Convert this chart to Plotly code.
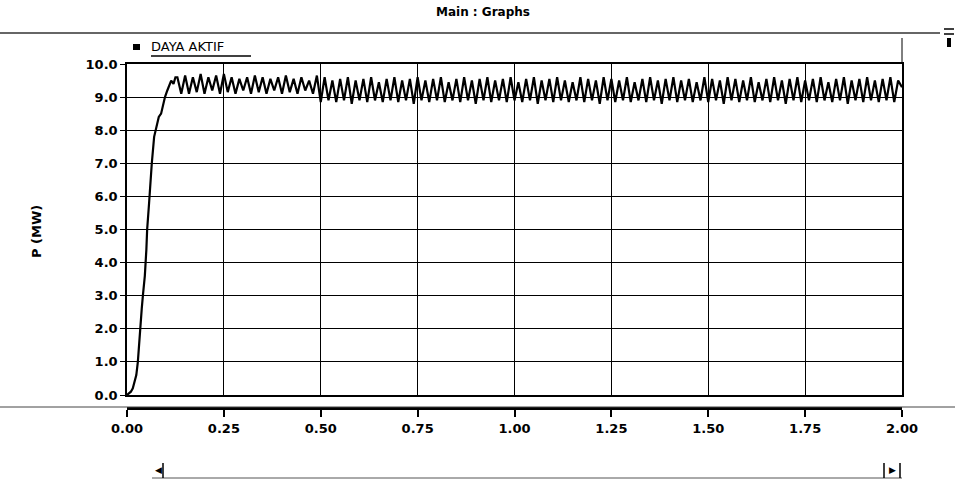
import plotly.graph_objects as go

# ---------------- data ----------------
rise_t = [0.000, 0.005, 0.010, 0.015, 0.020, 0.024, 0.028, 0.031, 0.034, 0.038,
          0.041, 0.046, 0.050, 0.052, 0.057, 0.060, 0.064, 0.070, 0.077, 0.082,
          0.088, 0.094, 0.098, 0.104, 0.108, 0.114, 0.120, 0.125]
rise_p = [0.0, 0.05, 0.1, 0.2, 0.4, 0.6, 1.0, 1.5, 2.2, 2.6,
          3.0, 3.6, 4.4, 5.0, 5.8, 6.4, 7.0, 7.8, 8.2, 8.4,
          8.5, 8.8, 9.0, 9.2, 9.3, 9.5, 9.4, 9.6]

early_t = [0.13, 0.14, 0.15, 0.16, 0.17, 0.18, 0.19, 0.20,
           0.21, 0.22, 0.23, 0.24, 0.25, 0.26, 0.27, 0.28, 0.29, 0.30,
           0.31, 0.32, 0.33, 0.34, 0.35, 0.36, 0.37, 0.38, 0.39, 0.40,
           0.41, 0.42, 0.43, 0.44, 0.45, 0.46, 0.47, 0.48, 0.49, 0.50]
early_p = [9.6, 9.1, 9.65, 9.1, 9.6, 9.15, 9.7, 9.1,
           9.6, 9.2, 9.65, 9.1, 9.7, 9.15, 9.6, 9.1, 9.55, 9.2,
           9.6, 9.1, 9.65, 9.15, 9.6, 9.1, 9.55, 9.2, 9.6, 9.1,
           9.65, 9.15, 9.55, 9.1, 9.6, 9.2, 9.5, 9.1, 9.65, 8.85]

late_t = [0.51, 0.52, 0.53, 0.54, 0.55, 0.56, 0.57, 0.58, 0.59, 0.60,
          0.61, 0.62, 0.63, 0.64, 0.65, 0.66, 0.67, 0.68, 0.69, 0.70,
          0.71, 0.72, 0.73, 0.74, 0.75, 0.76, 0.77, 0.78, 0.79, 0.80,
          0.81, 0.82, 0.83, 0.84, 0.85, 0.86, 0.87, 0.88, 0.89, 0.90,
          0.91, 0.92, 0.93, 0.94, 0.95, 0.96, 0.97, 0.98, 0.99, 1.00,
          1.01, 1.02, 1.03, 1.04, 1.05, 1.06, 1.07, 1.08, 1.09, 1.10,
          1.11, 1.12, 1.13, 1.14, 1.15, 1.16, 1.17, 1.18, 1.19, 1.20,
          1.21, 1.22, 1.23, 1.24, 1.25, 1.26, 1.27, 1.28, 1.29, 1.30,
          1.31, 1.32, 1.33, 1.34, 1.35, 1.36, 1.37, 1.38, 1.39, 1.40,
          1.41, 1.42, 1.43, 1.44, 1.45, 1.46, 1.47, 1.48, 1.49, 1.50,
          1.51, 1.52, 1.53, 1.54, 1.55, 1.56, 1.57, 1.58, 1.59, 1.60,
          1.61, 1.62, 1.63, 1.64, 1.65, 1.66, 1.67, 1.68, 1.69, 1.70,
          1.71, 1.72, 1.73, 1.74, 1.75, 1.76, 1.77, 1.78, 1.79, 1.80,
          1.81, 1.82, 1.83, 1.84, 1.85, 1.86, 1.87, 1.88, 1.89, 1.90,
          1.91, 1.92, 1.93, 1.94, 1.95, 1.96, 1.97, 1.98, 1.99, 2.00]
late_p = [9.6, 8.9, 9.5, 8.85, 9.55, 8.9, 9.6, 8.8, 9.5, 8.9,
          9.55, 8.85, 9.6, 8.9, 9.45, 8.85, 9.55, 8.9, 9.6, 8.85,
          9.5, 8.9, 9.55, 8.8, 9.6, 8.9, 9.5, 8.85, 9.55, 8.9,
          9.6, 8.85, 9.45, 8.9, 9.55, 8.85, 9.6, 8.9, 9.5, 8.8,
          9.55, 8.9, 9.6, 8.85, 9.5, 8.9, 9.55, 8.85, 9.6, 8.9,
          9.45, 8.85, 9.55, 8.9, 9.6, 8.8, 9.5, 8.9, 9.55, 8.85,
          9.6, 8.9, 9.5, 8.85, 9.45, 8.9, 9.6, 8.85, 9.55, 8.9,
          9.5, 8.8, 9.6, 8.9, 9.55, 8.85, 9.5, 8.9, 9.6, 8.85,
          9.45, 8.9, 9.55, 8.85, 9.6, 8.9, 9.5, 8.8, 9.55, 8.9,
          9.6, 8.85, 9.5, 8.9, 9.55, 8.85, 9.45, 8.9, 9.6, 8.85,
          9.55, 8.9, 9.5, 8.8, 9.6, 8.9, 9.55, 8.85, 9.5, 8.9,
          9.6, 8.85, 9.45, 8.9, 9.55, 8.85, 9.6, 8.9, 9.5, 8.8,
          9.55, 8.9, 9.6, 8.85, 9.5, 8.9, 9.55, 8.85, 9.6, 8.9,
          9.45, 8.85, 9.55, 8.9, 9.6, 8.8, 9.5, 8.9, 9.55, 8.85,
          9.6, 8.9, 9.5, 8.85, 9.55, 8.9, 9.6, 8.85, 9.5, 9.3]

x_ticks = [0.00, 0.25, 0.50, 0.75, 1.00, 1.25, 1.50, 1.75, 2.00]
y_ticks = [0.0, 1.0, 2.0, 3.0, 4.0, 5.0, 6.0, 7.0, 8.0, 9.0, 10.0]

series_name = "DAYA AKTIF"
title_text = "Main : Graphs"
y_title = "P (MW)"

# ---------------- figure ----------------
W, H = 955, 483
ML, MR, MT, MB = 127, 53, 64, 75
PW, PH = W - ML - MR, H - MT - MB


def px(x):
    return (x - ML) / PW


def py(y):
    return (H - MB - y) / PH


FONT = "DejaVu Sans"

t_all = rise_t + early_t + late_t
p_all = rise_p + early_p + late_p

fig = go.Figure()
fig.add_trace(go.Scatter(x=t_all, y=p_all, mode="lines", name=series_name,
                         line=dict(color="black", width=2.2), showlegend=False))
# same data on the detached bottom axis (invisible) so that axis gets drawn
fig.add_trace(go.Scatter(x=t_all, y=p_all, mode="lines", xaxis="x2",
                         line=dict(color="rgba(0,0,0,0)", width=0),
                         hoverinfo="skip", showlegend=False))

ybot = (H - MB - 395) / PH

fig.update_layout(
    width=W, height=H,
    margin=dict(l=ML, r=MR, t=MT, b=MB, pad=0),
    paper_bgcolor="white", plot_bgcolor="white",
    font=dict(family=FONT, color="black", size=13),
    showlegend=False,
    xaxis=dict(range=[0, 2], tickvals=x_ticks, showticklabels=False, ticks="",
               showgrid=True, gridcolor="black", gridwidth=1,
               showline=True, linecolor="black", linewidth=1.5, mirror=True,
               zeroline=False, anchor="y"),
    xaxis2=dict(range=[0, 2], tickvals=x_ticks, tickformat=".2f",
                overlaying="x", anchor="free", position=0, side="bottom",
                showgrid=False, zeroline=False,
                showline=True, linecolor="black", linewidth=3,
                ticks="outside", ticklen=7, tickwidth=2, tickcolor="black",
                tickfont=dict(family=FONT, size=13, weight="bold", color="black")),
    yaxis=dict(range=[0, 10], tickvals=y_ticks, tickformat=".1f",
               domain=[ybot, 1],
               showgrid=True, gridcolor="black", gridwidth=1,
               showline=True, linecolor="black", linewidth=1.5, mirror=True,
               zeroline=False,
               ticks="outside", ticklen=5, tickwidth=1, tickcolor="black",
               tickfont=dict(family=FONT, size=13, weight="bold", color="black")),
)

shapes = []
# title separator line
shapes.append(dict(type="line", xref="paper", yref="paper",
                   x0=px(0), x1=px(940), y0=py(33), y1=py(33),
                   line=dict(color="#333", width=1.5)))
# right frame extension above plot
shapes.append(dict(type="line", xref="paper", yref="paper",
                   x0=1, x1=1, y0=py(38), y1=1,
                   line=dict(color="black", width=1)))
# thin full-width line at x-axis level
shapes.append(dict(type="line", xref="paper", yref="paper",
                   x0=px(0), x1=px(955), y0=py(407), y1=py(407),
                   line=dict(color="#444", width=1)))
# legend marker
shapes.append(dict(type="rect", xref="paper", yref="paper",
                   x0=px(133), x1=px(140), y0=py(50), y1=py(44),
                   fillcolor="black", line=dict(width=0)))
# legend underline
shapes.append(dict(type="line", xref="paper", yref="paper",
                   x0=px(151), x1=px(251), y0=py(56), y1=py(56),
                   line=dict(color="black", width=1.5)))
# scrollbar
shapes.append(dict(type="line", xref="paper", yref="paper",
                   x0=px(152), x1=px(902), y0=py(478), y1=py(478),
                   line=dict(color="#555", width=1)))
shapes.append(dict(type="line", xref="paper", yref="paper",
                   x0=px(163), x1=px(163), y0=py(463), y1=py(478),
                   line=dict(color="black", width=1.5)))
shapes.append(dict(type="line", xref="paper", yref="paper",
                   x0=px(884), x1=px(884), y0=py(463), y1=py(478),
                   line=dict(color="black", width=1.5)))
shapes.append(dict(type="line", xref="paper", yref="paper",
                   x0=px(900), x1=px(900), y0=py(463), y1=py(478),
                   line=dict(color="black", width=1.5)))
# right-edge widget marks
shapes.append(dict(type="line", xref="paper", yref="paper",
                   x0=px(944), x1=px(954), y0=py(29), y1=py(29),
                   line=dict(color="black", width=1.5)))
shapes.append(dict(type="line", xref="paper", yref="paper",
                   x0=px(944), x1=px(954), y0=py(34), y1=py(34),
                   line=dict(color="black", width=1.5)))
shapes.append(dict(type="rect", xref="paper", yref="paper",
                   x0=px(947), x1=px(951), y0=py(47), y1=py(38),
                   fillcolor="black", line=dict(width=0)))
fig.update_layout(shapes=shapes)

ann = []
ann.append(dict(text=title_text, xref="paper", yref="paper",
                x=px(483), y=py(12), xanchor="center", yanchor="middle",
                showarrow=False,
                font=dict(family=FONT, size=12, weight="bold", color="black")))
ann.append(dict(text=series_name, xref="paper", yref="paper",
                x=px(149), y=py(47), xanchor="left", yanchor="middle",
                showarrow=False,
                font=dict(family=FONT, size=13, color="black")))
ann.append(dict(text=y_title, xref="paper", yref="paper",
                x=px(36), y=py(232), xanchor="center", yanchor="middle",
                textangle=-90, showarrow=False,
                font=dict(family=FONT, size=13, weight="bold", color="black")))
ann.append(dict(text="◀", xref="paper", yref="paper",
                x=px(158), y=py(470), xanchor="center", yanchor="middle",
                showarrow=False, font=dict(family=FONT, size=9, color="black")))
ann.append(dict(text="▶", xref="paper", yref="paper",
                x=px(892), y=py(470), xanchor="center", yanchor="middle",
                showarrow=False, font=dict(family=FONT, size=9, color="black")))
fig.update_layout(annotations=ann)

fig.write_html("out.html",
               config={"displayModeBar": False},
               post_script="document.body.style.margin='0';document.body.style.padding='0';")
